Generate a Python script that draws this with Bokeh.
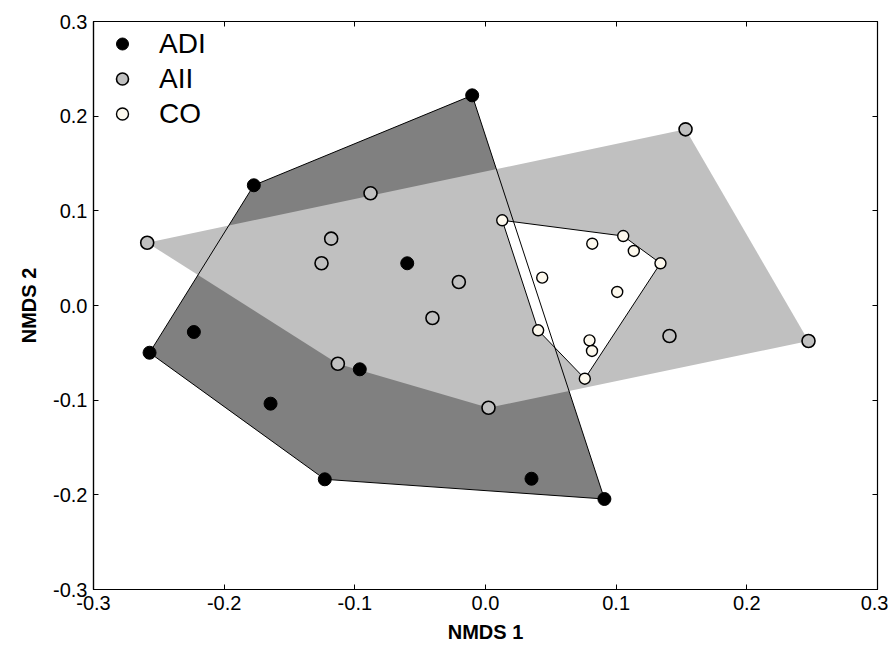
from bokeh.plotting import figure
from bokeh.models import Range1d, FixedTicker, LinearAxis, Legend, LegendItem, PrintfTickFormatter
from bokeh.embed import file_html
from bokeh.resources import INLINE

# ---- data ----
adi_x = [-0.0102, -0.1773, -0.0599, -0.2232, -0.2571, -0.0962, -0.1645, -0.1230, 0.0352, 0.0910]
adi_y = [0.2220, 0.1270, 0.0446, -0.0280, -0.0499, -0.0674, -0.1037, -0.1836, -0.1830, -0.2044]

aii_x = [-0.2589, -0.0880, -0.1181, -0.1255, -0.0204, -0.0406, -0.1130, 0.0023, 0.1531, 0.1408, 0.2472]
aii_y = [0.0663, 0.1185, 0.0706, 0.0446, 0.0248, -0.0132, -0.0615, -0.1080, 0.1861, -0.0322, -0.0375]

co_x = [0.0128, 0.1054, 0.0817, 0.1135, 0.0434, 0.1008, 0.1339, 0.0403, 0.0796, 0.0815, 0.0760]
co_y = [0.0900, 0.0734, 0.0653, 0.0576, 0.0294, 0.0143, 0.0446, -0.0262, -0.0368, -0.0480, -0.0773]

# convex hull vertices (indices into the arrays above)
adi_hull = [4, 1, 0, 9, 7]
aii_hull = [0, 8, 10, 7, 6]
co_hull = [0, 1, 6, 10, 7]

ticks = [-0.3, -0.2, -0.1, 0.0, 0.1, 0.2, 0.3]

FONT = "Liberation Sans"

p = figure(width=888, height=650, output_backend="svg", toolbar_location=None,
           x_range=Range1d(-0.3, 0.3), y_range=Range1d(-0.3, 0.3),
           min_border_left=93, min_border_right=11, min_border_top=21, min_border_bottom=61,
           x_axis_label="NMDS 1", y_axis_label="NMDS 2")
p.grid.visible = False
p.outline_line_color = "black"
p.outline_line_width = 1.2

for ax in (p.xaxis[0], p.yaxis[0]):
    ax.ticker = FixedTicker(ticks=ticks)
    ax.formatter = PrintfTickFormatter(format="%.1f")
    ax.major_tick_in = 5
    ax.major_tick_out = 0
    ax.minor_tick_line_color = None
    ax.axis_line_color = "black"
    ax.axis_line_width = 1.2
    ax.major_label_text_font = FONT
    ax.major_label_text_font_size = "20px"
    ax.major_label_text_color = "black"
    ax.axis_label_text_font = FONT
    ax.axis_label_text_font_style = "bold"
    ax.axis_label_text_font_size = "20px"
    ax.axis_label_text_color = "black"
    ax.major_label_standoff = 6
p.xaxis[0].axis_label_standoff = 8
p.yaxis[0].axis_label_standoff = 10

for side in ("above", "right"):
    a = LinearAxis(ticker=FixedTicker(ticks=ticks), major_tick_in=5, major_tick_out=0,
                   minor_tick_line_color=None, major_label_text_font_size="0px",
                   major_label_standoff=0, axis_line_color="black")
    p.add_layout(a, side)

# hull polygons
hx = lambda xs, idx: [xs[i] for i in idx]
p.patch(hx(adi_x, adi_hull), hx(adi_y, adi_hull), fill_color="#808080", line_color=None)
p.patch(hx(aii_x, aii_hull), hx(aii_y, aii_hull), fill_color="#c0c0c0", line_color=None)
p.patch(hx(co_x, co_hull), hx(co_y, co_hull), fill_color="white", line_color="black", line_width=1)
p.patch(hx(adi_x, adi_hull), hx(adi_y, adi_hull), fill_color=None, line_color="black", line_width=1)

# points
r_aii = p.scatter(aii_x, aii_y, size=13, fill_color="#c0c0c0", line_color="black", line_width=1.6)
r_co = p.scatter(co_x, co_y, size=11, fill_color="#fdf9ee", line_color="black", line_width=1.4)
r_adi = p.scatter(adi_x, adi_y, size=13, fill_color="black", line_color="black", line_width=1)

legend = Legend(items=[LegendItem(label="ADI", renderers=[r_adi]),
                       LegendItem(label="AII", renderers=[r_aii]),
                       LegendItem(label="CO", renderers=[r_co])],
                location=(14, 458), orientation="vertical",
                border_line_color=None, background_fill_alpha=0,
                padding=0, margin=0, spacing=0,
                glyph_width=30, glyph_height=35, label_height=35,
                label_standoff=22,
                label_text_font=FONT, label_text_font_size="28px", label_text_color="black")
p.add_layout(legend)

open("out.html", "w").write(file_html(p, INLINE))
